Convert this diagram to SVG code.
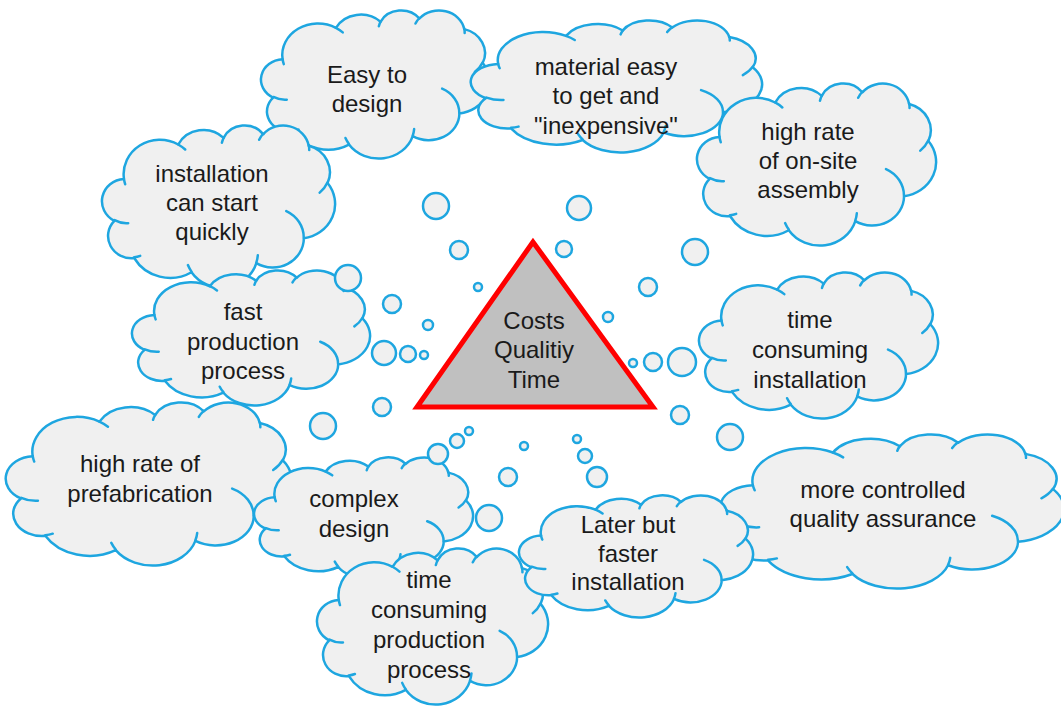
<svg xmlns="http://www.w3.org/2000/svg" xmlns:xlink="http://www.w3.org/1999/xlink" width="1061" height="709" viewBox="0 0 1061 709">
<style>
.cl{fill:#f0f0f0;stroke:#1ea6e0;stroke-width:2.5;vector-effect:non-scaling-stroke;stroke-linejoin:round}
.ci{fill:none;stroke:#1ea6e0;stroke-width:2.5;vector-effect:non-scaling-stroke;stroke-linecap:round}
.b{fill:#f0f0f0;stroke:#1ea6e0;stroke-width:2.5}
text{font-family:"Liberation Sans",Arial,sans-serif;font-size:24px;fill:#1a1a1a;text-anchor:middle}
</style>
<defs>
<g id="cloud">
<path class="cl" d="M9.03,33.26 A15.63,21.27 0 0 1 32.42,12.04 A12.34,16.82 0 0 1 51.98,7.95 A10.10,13.76 0 0 1 69.06,5.74 A11.24,15.27 0 0 1 88.70,12.91 A12.34,16.84 0 0 1 96.80,35.79 A15.68,21.34 0 0 1 86.58,69.92 A13.39,18.21 0 0 1 66.10,85.22 A15.63,21.33 0 0 1 38.15,90.90 A17.87,24.41 0 0 1 13.44,82.11 A10.09,13.70 0 0 1 4.89,59.15 A10.06,13.76 0 0 1 9.03,33.26 Z"/>
<path class="ci" d="M10.86,60.59 A10.06,13.76 0 0 1 5.00,58.75 M16.04,80.78 A10.09,13.70 0 0 1 13.47,81.67 M38.14,90.49 A15.63,21.33 0 0 1 36.60,86.45 M66.73,80.44 A15.63,21.33 0 0 1 66.11,84.86 M79.00,53.13 A13.39,18.21 0 0 1 86.53,69.65 M96.75,35.54 A12.34,16.84 0 0 1 93.40,41.74 M88.71,12.56 A11.24,15.27 0 0 1 88.89,15.49 M67.31,9.15 A11.24,15.27 0 0 1 69.03,5.41 M51.25,10.93 A10.10,13.76 0 0 1 52.08,7.71 M32.41,12.02 A15.63,21.27 0 0 1 35.42,15.14 M9.55,36.55 A15.63,21.27 0 0 1 9.03,33.26"/>
</g>
</defs>
<rect width="1061" height="709" fill="#ffffff"/>

<g id="easy">
<use xlink:href="#cloud" transform="translate(262,10) scale(2.28,1.48)"/>
<text x="367" y="83">Easy to</text>
<text x="367" y="112">design</text>
</g>
<g id="material">
<use xlink:href="#cloud" transform="translate(472,20) scale(2.9,1.32)"/>
<text x="606" y="75">material easy</text>
<text x="606" y="104">to get and</text>
<text x="606" y="134">"inexpensive"</text>
</g>
<g id="onsite">
<use xlink:href="#cloud" transform="translate(698,83) scale(2.38,1.62)"/>
<text x="808" y="140">high rate</text>
<text x="808" y="169">of on-site</text>
<text x="808" y="198">assembly</text>
</g>
<g id="installation">
<use xlink:href="#cloud" transform="translate(103,125) scale(2.32,1.62)"/>
<text x="212" y="182">installation</text>
<text x="212" y="211">can start</text>
<text x="212" y="240">quickly</text>
</g>
<g id="fast">
<use xlink:href="#cloud" transform="translate(133,270) scale(2.37,1.35)"/>
<text x="243" y="320">fast</text>
<text x="243" y="350">production</text>
<text x="243" y="379">process</text>
</g>
<g id="timeinstall">
<use xlink:href="#cloud" transform="translate(700,272) scale(2.38,1.46)"/>
<text x="810" y="328">time</text>
<text x="810" y="358">consuming</text>
<text x="810" y="388">installation</text>
</g>
<g id="prefab">
<use xlink:href="#cloud" transform="translate(7,402) scale(2.85,1.63)"/>
<text x="140" y="472">high rate of</text>
<text x="140" y="502">prefabrication</text>
</g>
<g id="complex">
<use xlink:href="#cloud" transform="translate(255,457) scale(2.18,1.21)"/>
<text x="354" y="507">complex</text>
<text x="354" y="537">design</text>
</g>
<g id="production">
<use xlink:href="#cloud" transform="translate(318,548) scale(2.3,1.56)"/>
<text x="429" y="588">time</text>
<text x="429" y="618">consuming</text>
<text x="429" y="648">production</text>
<text x="429" y="678">process</text>
</g>
<g id="quality">
<use xlink:href="#cloud" transform="translate(722,434) scale(3.42,1.54)"/>
<text x="883" y="498">more controlled</text>
<text x="883" y="527">quality assurance</text>
</g>
<g id="later">
<use xlink:href="#cloud" transform="translate(520,495) scale(2.33,1.22)"/>
<text x="628" y="533">Later but</text>
<text x="628" y="562">faster</text>
<text x="628" y="590">installation</text>
</g>

<g id="bubbles">
<circle class="b" cx="436" cy="206" r="13"/>
<circle class="b" cx="579" cy="208" r="12"/>
<circle class="b" cx="459" cy="250" r="9"/>
<circle class="b" cx="564" cy="249" r="8"/>
<circle class="b" cx="695" cy="252" r="13"/>
<circle class="b" cx="348" cy="278" r="13"/>
<circle class="b" cx="478" cy="287" r="4"/>
<circle class="b" cx="392" cy="304" r="9"/>
<circle class="b" cx="648" cy="287" r="9"/>
<circle class="b" cx="428" cy="325" r="5"/>
<circle class="b" cx="608" cy="317" r="5"/>
<circle class="b" cx="384" cy="353" r="12"/>
<circle class="b" cx="408" cy="354" r="8"/>
<circle class="b" cx="424" cy="355" r="4"/>
<circle class="b" cx="633" cy="363" r="4"/>
<circle class="b" cx="653" cy="362" r="9"/>
<circle class="b" cx="682" cy="362" r="14"/>
<circle class="b" cx="382" cy="407" r="9"/>
<circle class="b" cx="680" cy="415" r="9"/>
<circle class="b" cx="323" cy="426" r="13"/>
<circle class="b" cx="469" cy="431" r="4"/>
<circle class="b" cx="457" cy="441" r="7"/>
<circle class="b" cx="438" cy="454" r="10"/>
<circle class="b" cx="524" cy="446" r="4"/>
<circle class="b" cx="577" cy="439" r="4"/>
<circle class="b" cx="585" cy="456" r="7"/>
<circle class="b" cx="730" cy="437" r="13"/>
<circle class="b" cx="508" cy="477" r="9"/>
<circle class="b" cx="597" cy="477" r="10"/>
<circle class="b" cx="489" cy="518" r="13"/>
</g>

<g id="triangle">
<polygon points="533,242 417,407 653,407" fill="#c0c0c0" stroke="#ff0000" stroke-width="5" stroke-linejoin="miter"/>
<text x="534" y="329">Costs</text>
<text x="534" y="358">Qualitiy</text>
<text x="534" y="388">Time</text>
</g>
</svg>
